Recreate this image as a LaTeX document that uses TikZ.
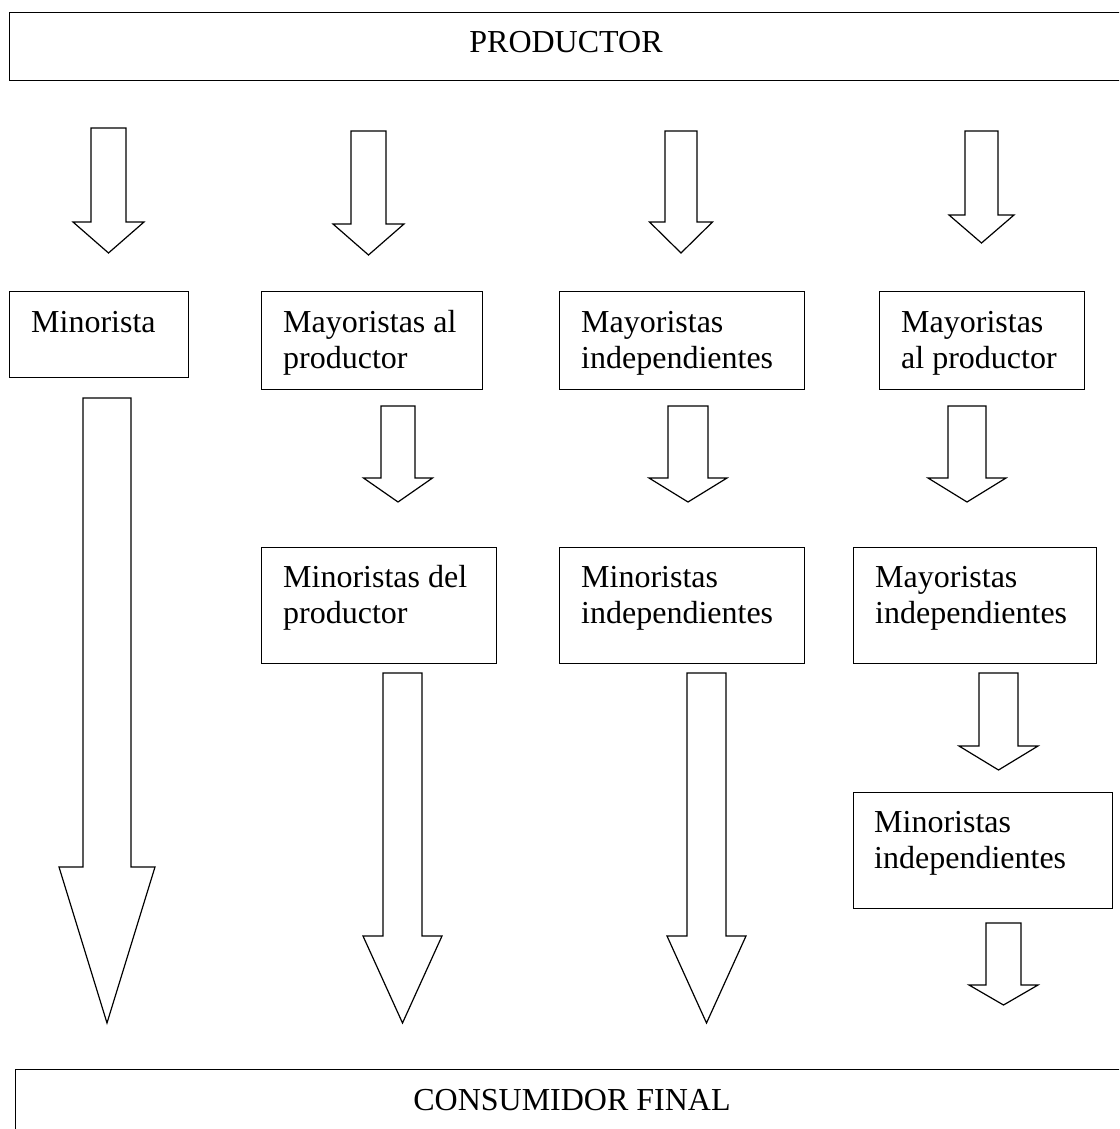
\documentclass[tikz,border=0pt]{standalone}
\usepackage{fontspec}
\setmainfont{Liberation Serif}
\usetikzlibrary{calc}
\tikzset{
  boxst/.style={draw=black, line width=1.2pt, fill=white, inner sep=0pt, anchor=north west},
  lbl/.style={font=\fontsize{32}{36}\selectfont, inner sep=0pt, anchor=base west},
  ctr/.style={font=\fontsize{32}{36}\selectfont, inner sep=0pt, anchor=base},
  blk/.style={draw=black, line width=1.2pt, fill=white, line join=miter}
}
% block arrow: cx, top, headY, tip, shaft half width, head half width
\newcommand{\barrow}[6]{%
  \draw[blk] ({#1-#5},#2) -- ({#1+#5},#2) -- ({#1+#5},#3) -- ({#1+#6},#3)
    -- (#1,#4) -- ({#1-#6},#3) -- ({#1-#5},#3) -- cycle;}
% box: name, x1, y1, x2, y2
\newcommand{\mybox}[5]{%
  \node[boxst, minimum width={#4-#2}, minimum height={#5-#3}] (#1) at (#2,#3) {};}
\begin{document}
\begin{tikzpicture}[x=1pt, y=-1pt]
\useasboundingbox (0,0) rectangle (1119,1129);
\clip (0,0) rectangle (1119,1129);
\fill[white] (0,0) rectangle (1119,1129);

% top and bottom bars
\mybox{prod}{9}{12}{1124}{80}
\node[ctr] (prodt) at (566,53) {PRODUCTOR};
\mybox{cons}{15}{1069}{1130}{1145}
\node[ctr] (const) at (572,1110) {CONSUMIDOR FINAL};

% row 1 boxes
\mybox{minA}{9}{291}{188}{377}
\node[lbl] (minAt) at ($(minA.north west)+(22,41)$) {Minorista};

\mybox{mayB}{261}{291}{482}{389}
\node[lbl] (mayBt1) at ($(mayB.north west)+(22,41)$) {Mayoristas al};
\node[lbl] (mayBt2) at ($(mayB.north west)+(22,77)$) {productor};

\mybox{mayC}{559}{291}{804}{389}
\node[lbl] (mayCt1) at ($(mayC.north west)+(22,41)$) {Mayoristas};
\node[lbl] (mayCt2) at ($(mayC.north west)+(22,77)$) {independientes};

\mybox{mayD}{879}{291}{1084}{389}
\node[lbl] (mayDt1) at ($(mayD.north west)+(22,41)$) {Mayoristas};
\node[lbl] (mayDt2) at ($(mayD.north west)+(22,77)$) {al productor};

% row 2 boxes
\mybox{minB}{261}{547}{496}{663}
\node[lbl] (minBt1) at ($(minB.north west)+(22,40)$) {Minoristas del};
\node[lbl] (minBt2) at ($(minB.north west)+(22,76)$) {productor};

\mybox{minC}{559}{547}{804}{663}
\node[lbl] (minCt1) at ($(minC.north west)+(22,40)$) {Minoristas};
\node[lbl] (minCt2) at ($(minC.north west)+(22,76)$) {independientes};

\mybox{mayD2}{853}{547}{1096}{663}
\node[lbl] (mayD2t1) at ($(mayD2.north west)+(22,40)$) {Mayoristas};
\node[lbl] (mayD2t2) at ($(mayD2.north west)+(22,76)$) {independientes};

% row 3 box
\mybox{minD}{853}{792}{1112}{908}
\node[lbl] (minDt1) at ($(minD.north west)+(21,40)$) {Minoristas};
\node[lbl] (minDt2) at ($(minD.north west)+(21,76)$) {independientes};

% arrows from PRODUCTOR
\barrow{108.5}{128}{222}{253}{17.5}{35.5}
\barrow{368.5}{131}{224}{255}{17.5}{35.5}
\barrow{681}{131}{222}{253}{16}{31.5}
\barrow{981.5}{131}{215}{243}{16.5}{32.5}

% middle arrows
\barrow{398}{406}{478}{502}{17}{34.5}
\barrow{688}{406}{478}{502}{20}{39}
\barrow{967}{406}{478}{502}{19}{39}
\barrow{998.5}{673}{746}{770}{19.5}{39.5}
\barrow{1003.5}{923}{985}{1005}{17.5}{34.5}

% long arrows to CONSUMIDOR FINAL
\barrow{107}{398}{867}{1023}{24}{48}
\barrow{402.5}{673}{936}{1023}{19.5}{39.5}
\barrow{706.5}{673}{936}{1023}{19.5}{39.5}
\end{tikzpicture}
\end{document}
